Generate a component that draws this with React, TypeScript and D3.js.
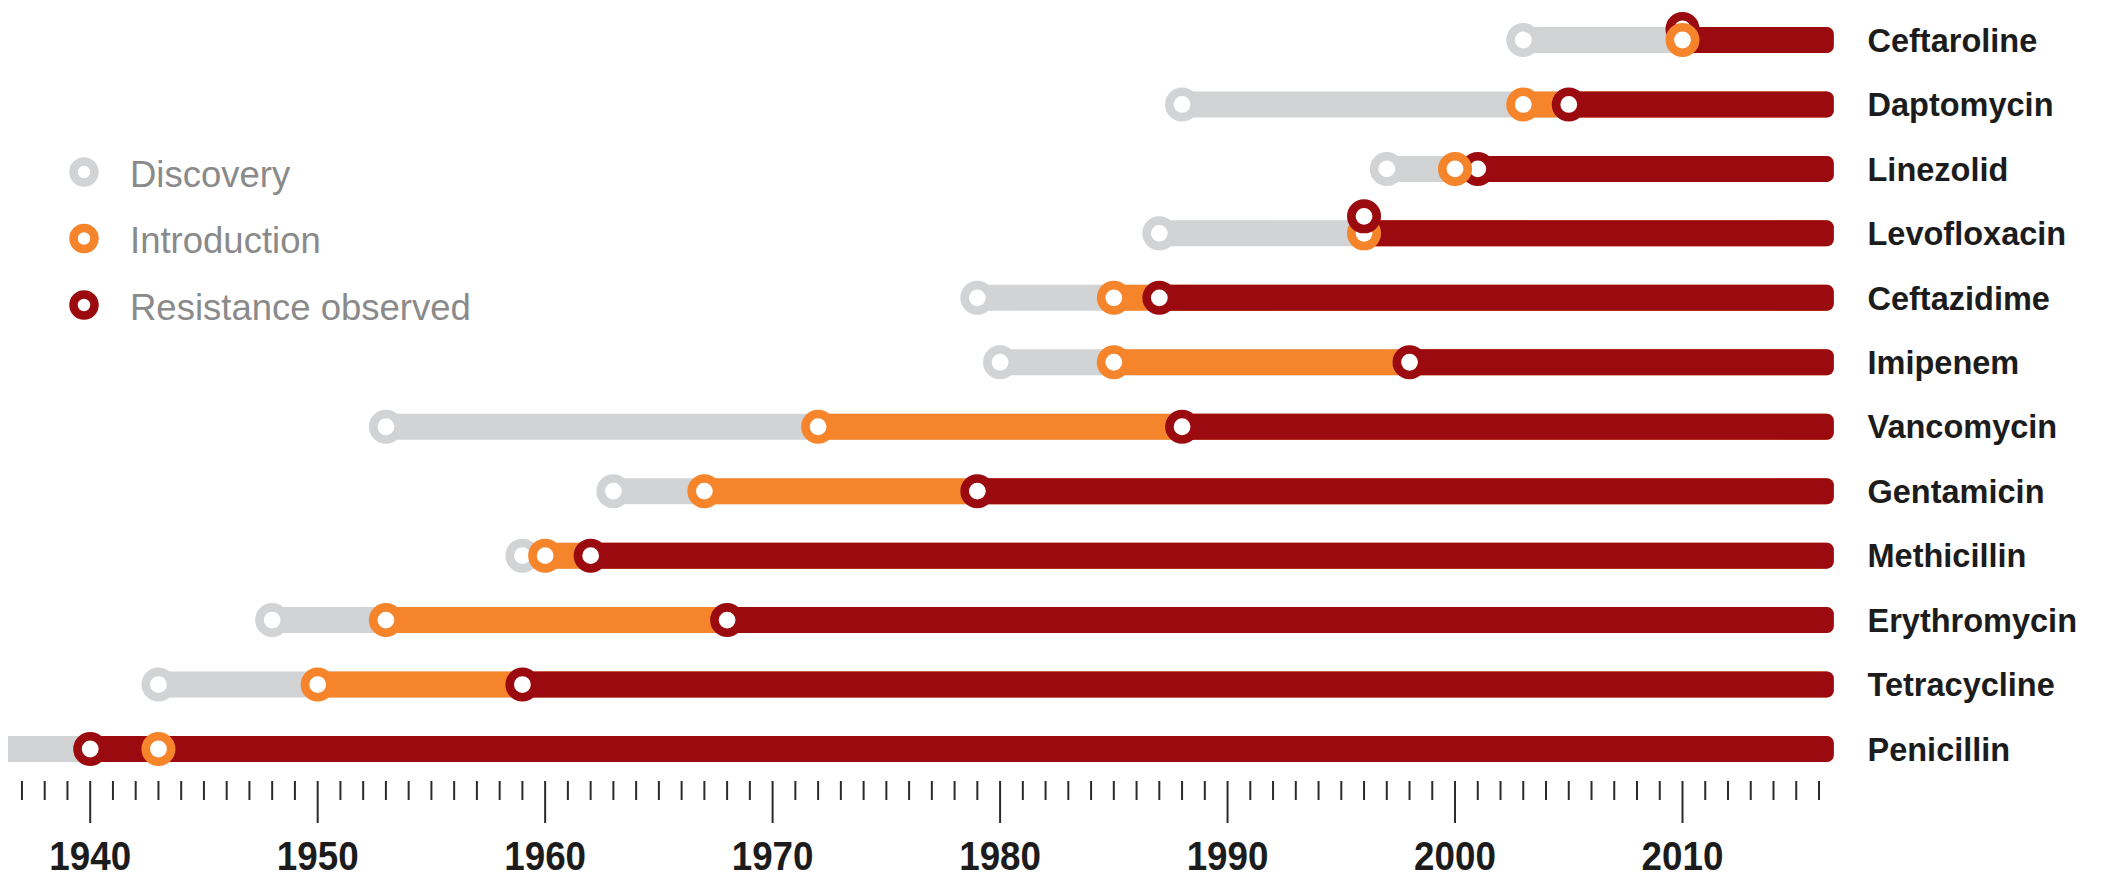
import React from "react";
import * as d3 from "d3";

// ---- data ----
const drugs = [
  "Ceftaroline",
  "Daptomycin",
  "Linezolid",
  "Levofloxacin",
  "Ceftazidime",
  "Imipenem",
  "Vancomycin",
  "Gentamicin",
  "Methicillin",
  "Erythromycin",
  "Tetracycline",
  "Penicillin",
];
const discoveryYears = [2003, 1988, 1997, 1987, 1979, 1980, 1953, 1963, 1959, 1948, 1943, 1928];
const introductionYears = [2010, 2003, 2000, 1996, 1985, 1985, 1972, 1967, 1960, 1953, 1950, 1943];
const resistanceYears = [2010, 2005, 2001, 1996, 1987, 1998, 1988, 1979, 1962, 1968, 1959, 1940];
const tickYears = d3.range(1937, 2017);
const labelYears = [1940, 1950, 1960, 1970, 1980, 1990, 2000, 2010];
const presentYear = 2016.65;
const legendLabels = ["Discovery", "Introduction", "Resistance observed"];

// ---- styles / layout ----
const W = 2107;
const H = 878;
const GRAY = "#d1d3d4";
const ORANGE = "#f5842b";
const RED = "#9b0a0f";
const legendColors = [GRAY, ORANGE, RED];
const BAR_H = 26;
const RING_R = 12.7;
const RING_W = 8.6;
// markers that coincide are nudged (layout only)
const resistanceShift: Record<string, { dy: number; onTop: boolean }> = {
  Ceftaroline: { dy: -11, onTop: false },
  Levofloxacin: { dy: -17, onTop: true },
};

export default function App() {
  const x = d3.scaleLinear().domain([1940, 2010]).range([90.2, 1682.5]);
  const y = d3.scalePoint<string>().domain(drugs).range([40, 749]);
  const xEnd = x(presentYear);

  const ring = (key: string, cx: number, cy: number, color: string) => (
    <circle key={key} cx={cx} cy={cy} r={RING_R} fill="#fff" stroke={color} strokeWidth={RING_W} />
  );

  return (
    <svg
      width={W}
      height={H}
      style={{ position: "absolute", left: 0, top: 0, display: "block", background: "#fff" }}
    >
      <defs>
        <clipPath id="plotClip">
          <rect x={8} y={0} width={W} height={H} />
        </clipPath>
      </defs>

      {/* bars */}
      <g clipPath="url(#plotClip)">
        {drugs.map((d, i) => {
          const cy = y(d) as number;
          const segs = [
            { start: discoveryYears[i], color: GRAY },
            { start: introductionYears[i], color: ORANGE },
            { start: resistanceYears[i], color: RED },
          ];
          return (
            <g key={d}>
              {segs.map((s, j) => (
                <rect
                  key={j}
                  x={x(s.start)}
                  y={cy - BAR_H / 2}
                  width={xEnd - x(s.start)}
                  height={BAR_H}
                  rx={7}
                  fill={s.color}
                />
              ))}
            </g>
          );
        })}
        {/* markers */}
        {drugs.map((d, i) => {
          const cy = y(d) as number;
          const shift = resistanceShift[d] || { dy: 0, onTop: false };
          const disc = ring("d", x(discoveryYears[i]), cy, GRAY);
          const intro = ring("i", x(introductionYears[i]), cy, ORANGE);
          const res = ring("r", x(resistanceYears[i]), cy + shift.dy, RED);
          return <g key={d}>{shift.onTop ? [disc, intro, res] : [disc, res, intro]}</g>;
        })}
      </g>

      {/* drug labels */}
      {drugs.map((d) => (
        <text
          key={d}
          x={1867.5}
          y={(y(d) as number) + 11.7}
          fontFamily="'Liberation Sans', Arial, sans-serif"
          fontWeight="bold"
          fontSize={32.5}
          fill="#1c1c1c"
        >
          {d}
        </text>
      ))}

      {/* axis */}
      <g stroke="#2b2b2b" strokeWidth={2}>
        {tickYears.map((t) => (
          <line key={t} x1={x(t)} x2={x(t)} y1={781} y2={t % 10 === 0 ? 823 : 800} />
        ))}
      </g>
      {labelYears.map((t) => (
        <text
          key={t}
          transform={`translate(${x(t)},869.5) scale(0.92,1)`}
          textAnchor="middle"
          fontFamily="'Liberation Sans', Arial, sans-serif"
          fontWeight="bold"
          fontSize={40}
          fill="#1c1c1c"
        >
          {t}
        </text>
      ))}

      {/* legend */}
      {legendLabels.map((l, i) => {
        const cy = 172 + i * 66.5;
        return (
          <g key={l}>
            <circle cx={84} cy={cy} r={10.5} fill="#fff" stroke={legendColors[i]} strokeWidth={8.5} />
            <text
              x={130}
              y={cy + 14.5}
              fontFamily="'Liberation Sans', Arial, sans-serif"
              fontSize={36.5}
              fill="#8a8a8a"
            >
              {l}
            </text>
          </g>
        );
      })}
    </svg>
  );
}
